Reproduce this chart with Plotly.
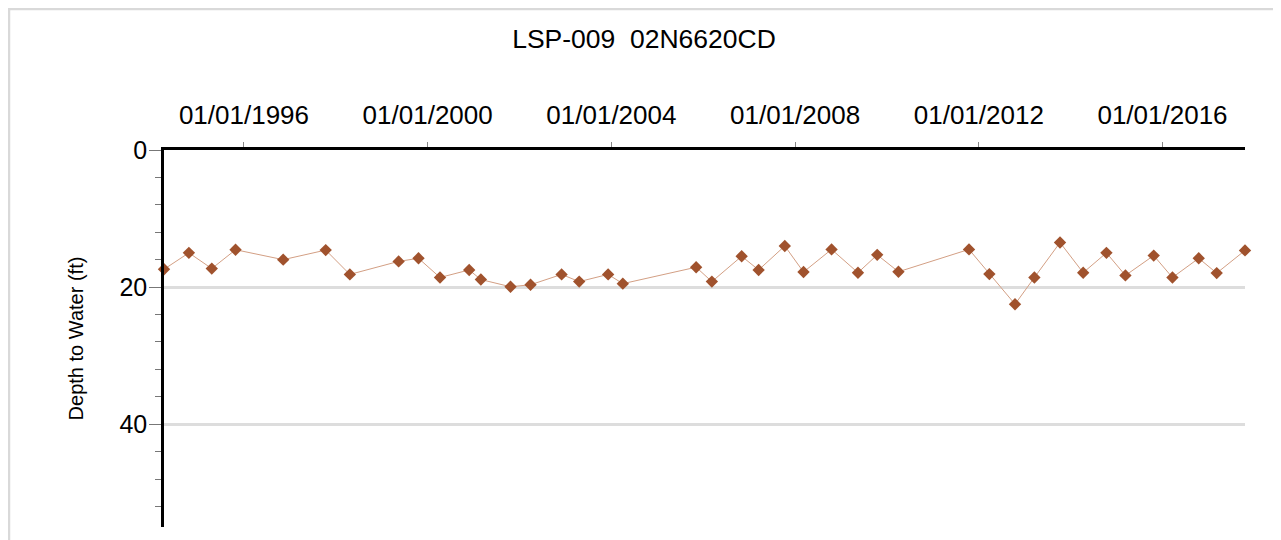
import plotly.graph_objects as go

title_text = "LSP-009  02N6620CD"
y_title = "Depth to Water (ft)"

dates = ["1994-04-05", "1994-10-20", "1995-04-20", "1995-10-26", "1996-11-08",
         "1997-10-12", "1998-04-22", "1999-05-15", "1999-10-20", "2000-04-08",
         "2000-11-26", "2001-02-27", "2001-10-21", "2002-03-29", "2002-12-01",
         "2003-04-20", "2003-12-06", "2004-04-01", "2005-11-05", "2006-03-10",
         "2006-11-02", "2007-03-17", "2007-10-11", "2008-03-08", "2008-10-17",
         "2009-05-15", "2009-10-15", "2010-04-02", "2011-10-15", "2012-03-25",
         "2012-10-15", "2013-03-18", "2013-10-08", "2014-04-10", "2014-10-12",
         "2015-03-12", "2015-10-23", "2016-03-20", "2016-10-15", "2017-03-07",
         "2017-10-18"]

depth = [17.4, 15.0, 17.3, 14.55, 16.0, 14.6, 18.15, 16.25, 15.8, 18.6,
         17.5, 18.9, 19.95, 19.66, 18.15, 19.2, 18.15, 19.5, 17.1, 19.2,
         15.5, 17.5, 14.0, 17.8, 14.5, 17.9, 15.3, 17.76, 14.5, 18.1,
         22.5, 18.6, 13.5, 17.9, 15.0, 18.3, 15.4, 18.6, 15.8, 17.96,
         14.65]

y_range = [55, 0]
font_family = "Arial, Liberation Sans, sans-serif"

fig = go.Figure()
fig.add_trace(go.Scatter(
    x=dates, y=depth, mode="lines+markers",
    line=dict(color="#D39F84", width=1),
    marker=dict(symbol="diamond", size=9.5, color="#A0522D"),
    cliponaxis=False, showlegend=False,
))

W, H = 1281, 540
L, R, T, B = 156, 44, 142, 21
pw, ph = W - L - R, H - T - B

fig.update_layout(
    width=W, height=H,
    margin=dict(l=L, r=R, t=T, b=B, autoexpand=False),
    paper_bgcolor="white", plot_bgcolor="white",
    font=dict(family=font_family, color="black"),
    title=dict(text=title_text, x=636 / W, xref="container", xanchor="center",
               y=1 - 31 / H, yref="container", yanchor="middle",
               font=dict(size=26.5, family=font_family, color="black")),
    xaxis=dict(
        type="date", side="top", range=[dates[0], dates[-1]],
        tick0="1996-01-01", dtick="M48", tickformat="%m/%d/%Y",
        showline=True, linecolor="black", linewidth=2.5,
        ticks="outside", ticklen=5, tickwidth=1, tickcolor="#888",
        tickfont=dict(size=26, family=font_family, color="black"),
        ticklabelstandoff=8,
        showgrid=False, zeroline=False, automargin=False,
    ),
    yaxis=dict(
        range=y_range, dtick=20, tick0=0,
        showline=True, linecolor="black", linewidth=2.5,
        ticks="outside", ticklen=12, tickwidth=1, tickcolor="#777",
        tickfont=dict(size=25, family=font_family, color="black"),
        ticklabelstandoff=-3,
        minor=dict(dtick=4, tick0=0, ticks="outside", ticklen=6,
                   tickwidth=1, tickcolor="#777", showgrid=False),
        showgrid=True, gridcolor="#DDDDDD", gridwidth=2.5,
        zeroline=False, automargin=False,
        title=dict(text=y_title, standoff=31,
                   font=dict(size=20, family=font_family, color="black")),
    ),
    shapes=[dict(type="rect", xref="paper", yref="paper",
                 x0=(1 - L) / pw, x1=(W + 20 - L) / pw,
                 y0=-(B + 20) / ph, y1=1 + (T - 1) / ph,
                 line=dict(color="#D9D9D9", width=2.5), layer="below")],
)

fig.write_html("out.html")
